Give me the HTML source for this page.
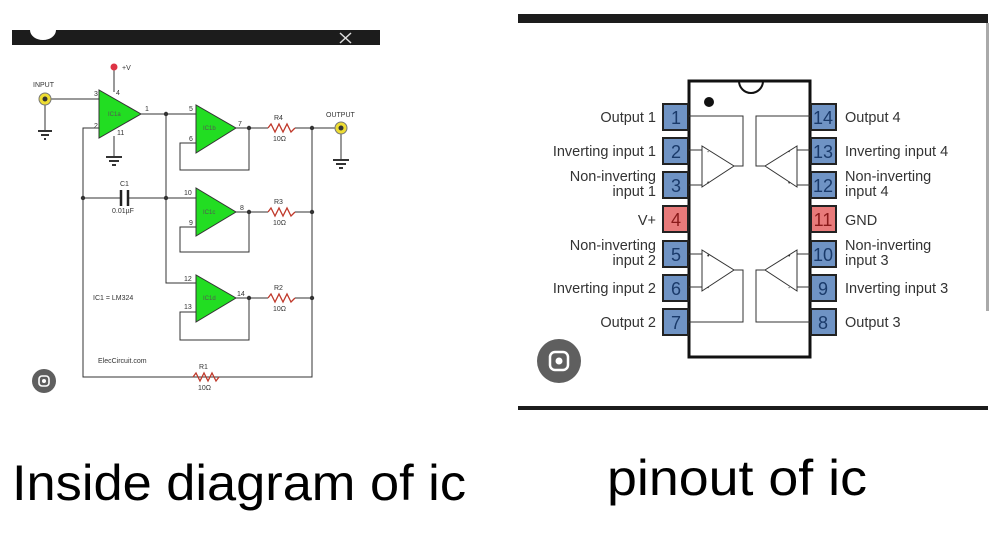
<!DOCTYPE html>
<html><head><meta charset="utf-8"><style>
html,body{margin:0;padding:0;background:#fff;}
svg{display:block;}
</style></head><body>
<svg width="1004" height="545" viewBox="0 0 1004 545" xmlns="http://www.w3.org/2000/svg" font-family="Liberation Sans, sans-serif">
<!-- LEFT PANEL -->
<rect x="12" y="30" width="368" height="15" fill="#1c1c1c"/>
<path d="M30 30 A13 10 0 0 0 56 30 Z" fill="#fff"/>
<path d="M340 33 L351 43 M351 33 L340 43" stroke="#ddd" stroke-width="1.5"/>
<g stroke="#333" stroke-width="1" fill="none">
 <!-- +V -->
 <line x1="114" y1="67" x2="114" y2="92"/>
 <!-- input -->
 <line x1="45" y1="99" x2="99" y2="99"/>
 <line x1="45" y1="99" x2="45" y2="131"/>
 <line x1="38" y1="131" x2="52" y2="131" stroke-width="2"/><line x1="41" y1="135" x2="49" y2="135" stroke-width="2"/><line x1="44" y1="139" x2="46" y2="139" stroke-width="2"/>
 <!-- opamp a gnd -->
 <line x1="114" y1="136" x2="114" y2="157"/>
 <line x1="106" y1="157" x2="122" y2="157" stroke-width="2"/><line x1="109" y1="161" x2="119" y2="161" stroke-width="2"/><line x1="112" y1="165" x2="116" y2="165" stroke-width="2"/>
 <!-- pin2 + left rail -->
 <polyline points="99,128 83,128 83,377 312,377 312,128"/>
 <!-- out1 -->
 <polyline points="141,114 196,114"/>
 <polyline points="166,114 166,283 196,283"/>
 <line x1="83" y1="198" x2="121" y2="198"/><line x1="129" y1="198" x2="196" y2="198"/>
 <!-- feedback loops -->
 <polyline points="236,128 249,128 249,170 180,170 180,143 196,143"/>
 <polyline points="236,212 249,212 249,252 180,252 180,227 196,227"/>
 <polyline points="236,298 249,298 249,340 180,340 180,312 196,312"/>
 <line x1="249" y1="128" x2="268" y2="128"/><line x1="295" y1="128" x2="341" y2="128"/>
 <line x1="249" y1="212" x2="268" y2="212"/><line x1="295" y1="212" x2="312" y2="212"/>
 <line x1="249" y1="298" x2="268" y2="298"/><line x1="295" y1="298" x2="312" y2="298"/>
 <!-- output gnd -->
 <line x1="341" y1="128" x2="341" y2="160"/>
 <line x1="333" y1="160" x2="349" y2="160" stroke-width="2"/><line x1="336" y1="164" x2="346" y2="164" stroke-width="2"/><line x1="339" y1="168" x2="343" y2="168" stroke-width="2"/>
</g>
<!-- capacitor -->
<line x1="121" y1="190" x2="121" y2="206" stroke="#222" stroke-width="2.5"/>
<line x1="128" y1="190" x2="128" y2="206" stroke="#222" stroke-width="2.5"/>
<!-- resistors -->
<g stroke="#c0392b" stroke-width="1.3" fill="none">
 <polyline points="268,128 271,124 275,132 279,124 283,132 287,124 291,132 295,128"/>
 <polyline points="268,212 271,208 275,216 279,208 283,216 287,208 291,216 295,212"/>
 <polyline points="268,298 271,294 275,302 279,294 283,302 287,294 291,302 295,298"/>
 <polyline points="193,377 196,373 200,381 204,373 208,381 212,373 216,381 219,377"/>
</g>
<!-- opamps -->
<g fill="#22dd22" stroke="#333" stroke-width="1">
 <polygon points="99,90 99,138 141,114"/>
 <polygon points="196,105 196,153 236,128"/>
 <polygon points="196,188 196,236 236,212"/>
 <polygon points="196,275 196,322 236,298"/>
</g>
<g font-size="6" fill="#555">
 <text x="108" y="116">IC1a</text><text x="203" y="130">IC1b</text><text x="203" y="214">IC1c</text><text x="203" y="300">IC1d</text>
</g>
<g font-size="7" fill="#333">
 <text x="94" y="96">3</text><text x="116" y="95">4</text><text x="94" y="128">2</text><text x="117" y="135">11</text><text x="145" y="111">1</text>
 <text x="189" y="111">5</text><text x="189" y="141">6</text><text x="238" y="126">7</text>
 <text x="184" y="195">10</text><text x="189" y="225">9</text><text x="240" y="210">8</text>
 <text x="184" y="281">12</text><text x="184" y="309">13</text><text x="237" y="296">14</text>
 <text x="120" y="186">C1</text><text x="112" y="213">0.01µF</text>
 <text x="274" y="120">R4</text><text x="273" y="141">10Ω</text>
 <text x="274" y="204">R3</text><text x="273" y="225">10Ω</text>
 <text x="274" y="290">R2</text><text x="273" y="311">10Ω</text>
 <text x="199" y="369">R1</text><text x="198" y="390">10Ω</text>
 <text x="33" y="87">INPUT</text><text x="326" y="117">OUTPUT</text>
 <text x="122" y="70">+V</text>
 <text x="93" y="300">IC1 = LM324</text>
 <text x="98" y="363">ElecCircuit.com</text>
</g>
<g fill="#333">
 <circle cx="166" cy="114" r="2.2"/><circle cx="166" cy="198" r="2.2"/><circle cx="83" cy="198" r="2.2"/>
 <circle cx="249" cy="128" r="2.2"/><circle cx="249" cy="212" r="2.2"/><circle cx="249" cy="298" r="2.2"/>
 <circle cx="312" cy="128" r="2.2"/><circle cx="312" cy="212" r="2.2"/><circle cx="312" cy="298" r="2.2"/>
</g>
<circle cx="114" cy="67" r="3.5" fill="#dd3344"/>
<circle cx="45" cy="99" r="6" fill="#eedd33" stroke="#777"/><circle cx="45" cy="99" r="2.5" fill="#333"/>
<circle cx="341" cy="128" r="6" fill="#eedd33" stroke="#777"/><circle cx="341" cy="128" r="2.5" fill="#333"/>
<circle cx="44" cy="381" r="12" fill="#5f5f5f"/>
<rect x="39" y="376" width="10" height="10" rx="3" fill="none" stroke="#fff" stroke-width="1.6"/><circle cx="44" cy="381" r="2" fill="#fff"/>

<!-- RIGHT PANEL -->
<rect x="518" y="14" width="470" height="9" fill="#1c1c1c"/>
<rect x="986" y="23" width="3" height="288" fill="#aaa"/>
<rect x="518" y="406" width="470" height="4" fill="#1c1c1c"/>
<rect x="689" y="81" width="121" height="276" fill="#fff" stroke="#111" stroke-width="3"/>
<path d="M739 81 A12 12 0 0 0 763 81" fill="none" stroke="#111" stroke-width="2"/>
<circle cx="709" cy="102" r="5" fill="#111"/>
<g stroke="#333" stroke-width="1" fill="none">
 <!-- opamp 1 (top-left) -->
 <polyline points="689,116 743,116 743,166 734,166"/>
 <line x1="689" y1="150" x2="702" y2="150"/><line x1="689" y1="185" x2="702" y2="185"/>
 <polygon points="702,146 702,187 734,166"/>
 <!-- opamp 4 (top-right) -->
 <polyline points="810,116 756,116 756,166 765,166"/>
 <line x1="810" y1="150" x2="797" y2="150"/><line x1="810" y1="185" x2="797" y2="185"/>
 <polygon points="797,146 797,187 765,166"/>
 <!-- opamp 2 -->
 <polyline points="689,322 743,322 743,270 734,270"/>
 <line x1="689" y1="254" x2="702" y2="254"/><line x1="689" y1="287" x2="702" y2="287"/>
 <polygon points="702,250 702,291 734,270"/>
 <!-- opamp 3 -->
 <polyline points="810,322 756,322 756,270 765,270"/>
 <line x1="810" y1="254" x2="797" y2="254"/><line x1="810" y1="287" x2="797" y2="287"/>
 <polygon points="797,250 797,291 765,270"/>
</g>
<g font-size="7" fill="#333">
 <text x="707" y="154">-</text><text x="707" y="185">•</text>
 <text x="788" y="154">-</text><text x="788" y="185">•</text>
 <text x="707" y="258">•</text><text x="707" y="290">-</text>
 <text x="788" y="258">•</text><text x="788" y="290">-</text>
</g>
<g stroke="#222" stroke-width="2">
 <rect x="663" y="104" width="25" height="26" fill="#6f93c4"/>
 <rect x="663" y="138" width="25" height="26" fill="#6f93c4"/>
 <rect x="663" y="172" width="25" height="26" fill="#6f93c4"/>
 <rect x="663" y="206" width="25" height="26" fill="#e87a7a"/>
 <rect x="663" y="241" width="25" height="26" fill="#6f93c4"/>
 <rect x="663" y="275" width="25" height="26" fill="#6f93c4"/>
 <rect x="663" y="309" width="25" height="26" fill="#6f93c4"/>
 <rect x="811" y="104" width="25" height="26" fill="#6f93c4"/>
 <rect x="811" y="138" width="25" height="26" fill="#6f93c4"/>
 <rect x="811" y="172" width="25" height="26" fill="#6f93c4"/>
 <rect x="811" y="206" width="25" height="26" fill="#e87a7a"/>
 <rect x="811" y="241" width="25" height="26" fill="#6f93c4"/>
 <rect x="811" y="275" width="25" height="26" fill="#6f93c4"/>
 <rect x="811" y="309" width="25" height="26" fill="#6f93c4"/>
</g>
<g font-size="18" fill="#1a3a6a" text-anchor="middle">
 <text x="676" y="124">1</text><text x="676" y="158">2</text><text x="676" y="192">3</text><text x="676" y="226" fill="#8a1a1a">4</text>
 <text x="676" y="261">5</text><text x="676" y="295">6</text><text x="676" y="329">7</text>
 <text x="823" y="124">14</text><text x="823" y="158">13</text><text x="823" y="192">12</text><text x="823" y="226" fill="#8a1a1a">11</text>
 <text x="823" y="261">10</text><text x="823" y="295">9</text><text x="823" y="329">8</text>
</g>
<g font-size="14.5" fill="#333" text-anchor="end">
 <text x="656" y="122">Output 1</text>
 <text x="656" y="156">Inverting input 1</text>
 <text x="656" y="181">Non-inverting</text><text x="656" y="196">input 1</text>
 <text x="656" y="225">V+</text>
 <text x="656" y="250">Non-inverting</text><text x="656" y="265">input 2</text>
 <text x="656" y="293">Inverting input 2</text>
 <text x="656" y="327">Output 2</text>
</g>
<g font-size="14.5" fill="#333">
 <text x="845" y="122">Output 4</text>
 <text x="845" y="156">Inverting input 4</text>
 <text x="845" y="181">Non-inverting</text><text x="845" y="196">input 4</text>
 <text x="845" y="225">GND</text>
 <text x="845" y="250">Non-inverting</text><text x="845" y="265">input 3</text>
 <text x="845" y="293">Inverting input 3</text>
 <text x="845" y="327">Output 3</text>
</g>
<circle cx="559" cy="361" r="22" fill="#5f5f5f"/>
<rect x="550" y="352" width="18" height="18" rx="5" fill="none" stroke="#fff" stroke-width="2.5"/><circle cx="559" cy="361" r="3.5" fill="#fff"/>

<!-- captions -->
<text x="12" y="500" font-size="50" fill="#000" textLength="454" lengthAdjust="spacingAndGlyphs">Inside diagram of ic</text>
<text x="607" y="495" font-size="50" fill="#000" textLength="260" lengthAdjust="spacingAndGlyphs">pinout of ic</text>
</svg>
</body></html>
